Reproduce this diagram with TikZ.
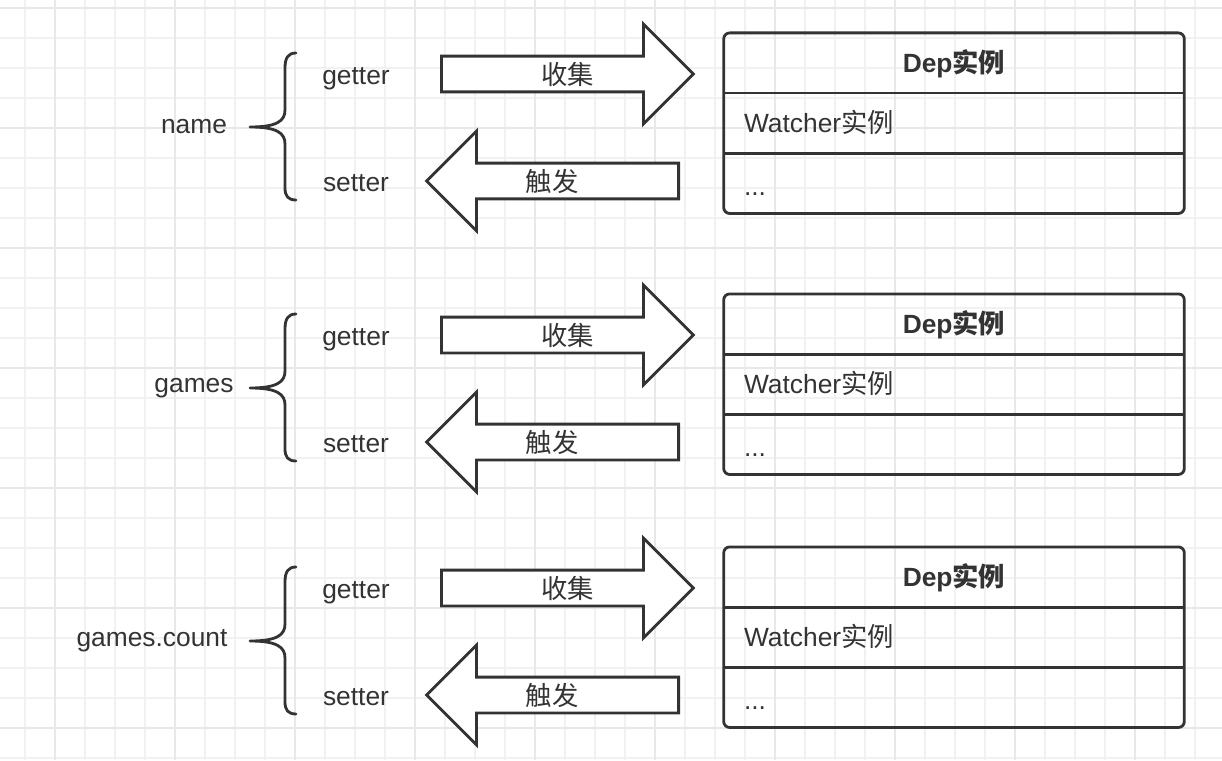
\documentclass[tikz,border=0pt]{standalone}
\usepackage{fontspec}
\setmainfont{Liberation Sans}
\newfontfamily\cjk{Noto Sans CJK SC}
\usetikzlibrary{shapes.arrows,positioning,calc}
\definecolor{ink}{HTML}{333333}
\definecolor{gridminor}{HTML}{F1F1F1}
\definecolor{gridmajor}{HTML}{E8E8E8}

\begin{document}
\begin{tikzpicture}[x=0.02cm, y=-0.02cm, font=\fontsize{15pt}{18pt}\selectfont, text=ink,
  outline/.style={draw=ink, line width=1.6pt},
  fatarrow/.style={outline, fill=white, single arrow, single arrow head extend=0.64cm, single arrow tip angle=90, single arrow head indent=0pt, minimum height=5.04cm, text height=0.3cm, text depth=0.1cm, inner ysep=0.13cm, inner xsep=0pt},
  cellhead/.style={minimum width=9.2cm, minimum height=1.19cm, inner sep=0pt, text height=0.41cm, text depth=0.04cm, font=\fontsize{15pt}{18pt}\selectfont\bfseries},
  cellitem/.style={minimum height=1.19cm, text width=8.4cm, inner xsep=0.4cm, inner ysep=0pt, align=left, text height=0.41cm, text depth=0.04cm}]
  \useasboundingbox (0,0) rectangle (1222,760);

  % Grid
  \foreach \gx in {25,55,...,1222} \draw[gridminor, line width=0.8pt] (\gx,0) -- (\gx,760);
  \foreach \gy in {8,38,...,760} \draw[gridminor, line width=0.8pt] (0,\gy) -- (1222,\gy);
  \foreach \gx in {55,175,...,1222} \draw[gridmajor, line width=0.8pt] (\gx,0) -- (\gx,760);
  \foreach \gy in {8,128,...,760} \draw[gridmajor, line width=0.8pt] (0,\gy) -- (1222,\gy);

  \foreach \dy/\lbl/\lx [count=\i] in {0/name/194, 261/games/194, 514/games.count/152} {
    % Nodes
    \node (var\i) at (\lx,127+\dy) {\lbl};
    \node (getter\i) at (356,79+\dy) {getter};
    \node (setter\i) at (356,183+\dy) {setter};
    \node[fatarrow, anchor=tail] (collect\i) at (440,74+\dy) {};
    \node[fatarrow, shape border rotate=180, anchor=tail] (notify\i) at (680,181+\dy) {};
    \node at ($(collect\i.tail)!0.5!(collect\i.tip)$) {\cjk 收集};
    \node at ($(notify\i.tail)!0.5!(notify\i.tip)$) {\cjk 触发};
    \node[cellhead] (dep\i) at (954,63+\dy) {Dep{\cjk 实例}};
    \node[cellitem, below=0pt of dep\i] (watcher\i) {Watcher{\cjk 实例}};
    \node[cellitem, text height=0.5cm, text depth=0.01cm, below=0pt of watcher\i] (more\i) {...};

    % Box
    \draw[outline, rounded corners=0.12cm] (dep\i.north west) rectangle (more\i.south east);
    \draw[outline] (watcher\i.north west) -- (watcher\i.north east);
    \draw[outline] (watcher\i.south west) -- (watcher\i.south east);

    % Brace
    \draw[outline, line cap=round, line join=round] (296,53+\dy) .. controls (288,53+\dy) and (285,58+\dy) .. (285,68+\dy) -- (285,110+\dy)
      .. controls (285,121+\dy) and (277,127+\dy) .. (250,127+\dy)
      .. controls (277,127+\dy) and (285,133+\dy) .. (285,144+\dy) -- (285,188+\dy)
      .. controls (285,196+\dy) and (288,200+\dy) .. (296,200+\dy);
  }
\end{tikzpicture}
\end{document}
